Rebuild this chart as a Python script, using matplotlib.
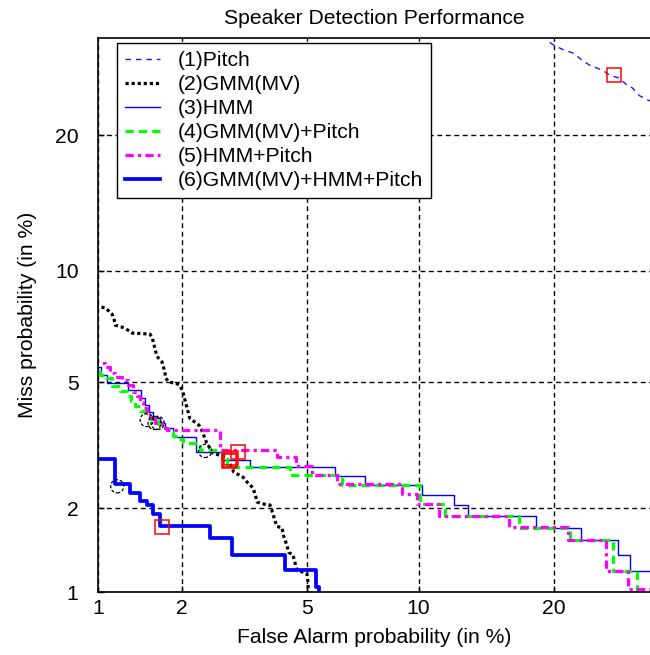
import matplotlib
matplotlib.use("Agg")
import numpy as np
import matplotlib.pyplot as plt
from matplotlib.patches import Circle
from matplotlib.transforms import ScaledTranslation
from statistics import NormalDist

# ---------------- data (percent) ----------------
tick_vals = [1, 2, 5, 10, 20]
tick_labels = ["1", "2", "5", "10", "20"]
labels = ["(1)Pitch", "(2)GMM(MV)", "(3)HMM", "(4)GMM(MV)+Pitch",
          "(5)HMM+Pitch", "(6)GMM(MV)+HMM+Pitch"]

pitch_fa = [19.2, 19.6, 20.1, 21.0, 21.8, 22.7, 23.4, 24.8, 25.5, 26.5, 27.3, 27.9, 28.7, 29.8, 31.0]
pitch_miss = [30.5, 29.5, 29.1, 28.6, 28.3, 27.5, 27.0, 26.4, 25.9, 25.6, 24.9, 24.6, 23.8, 23.3, 22.9]

gmm_fa = [0.93, 1.00, 1.07, 1.13, 1.15, 1.16, 1.23, 1.31, 1.34, 1.55, 1.58, 1.64,
          1.71, 1.75, 1.76, 1.81, 1.91, 1.97, 2.02, 2.13, 2.29, 2.34, 2.43, 2.55,
          2.81, 2.89, 2.98, 3.19, 3.28, 3.43, 3.50, 3.53, 3.65, 3.87, 3.92, 3.98,
          4.06, 4.21, 4.26, 4.35, 4.41, 4.54, 4.60, 4.66, 4.99, 5.02, 5.06]
gmm_miss = [8.22, 8.12, 8.02, 7.73, 7.46, 7.23, 7.14, 6.97, 6.88, 6.84, 6.67, 5.94,
            5.72, 5.35, 5.14, 5.01, 4.97, 4.91, 4.68, 3.91, 3.72, 3.59, 3.27, 3.04,
            2.95, 2.82, 2.64, 2.54, 2.45, 2.34, 2.18, 2.10, 2.07, 2.05, 1.97, 1.86,
            1.73, 1.71, 1.60, 1.49, 1.40, 1.37, 1.29, 1.21, 1.17, 1.11, 0.93]

hmm_fa = [0.93, 1.03, 1.08, 1.29, 1.44, 1.49, 1.54, 1.59, 1.68, 1.75, 1.87, 2.24,
          2.73, 3.35, 6.00, 7.26, 10.2, 12.2, 13.1, 18.4, 22.6, 26.4, 27.7, 31.0]
hmm_miss = [5.53, 5.25, 4.97, 4.75, 4.49, 4.28, 4.08, 3.91, 3.78, 3.64, 3.42, 3.06,
            2.89, 2.74, 2.56, 2.39, 2.22, 2.05, 1.88, 1.71, 1.55, 1.37, 1.20, 1.20]

gmmp_fa = [0.93, 1.02, 1.07, 1.13, 1.21, 1.28, 1.32, 1.37, 1.43, 1.49, 1.55, 1.65,
           1.72, 1.79, 1.87, 1.94, 2.02, 2.31, 2.73, 2.83, 4.45, 6.27, 10.1, 11.6,
           17.0, 21.5, 25.8, 28.4]
gmmp_miss = [5.53, 5.25, 5.14, 4.88, 4.71, 4.56, 4.40, 4.25, 4.11, 3.97, 3.88, 3.75,
             3.64, 3.54, 3.44, 3.37, 3.27, 3.11, 2.95, 2.75, 2.59, 2.40, 2.07, 1.88,
             1.71, 1.55, 1.20, 0.93]

hmmp_fa = [0.93, 1.06, 1.11, 1.16, 1.23, 1.29, 1.35, 1.39, 1.43, 1.46, 1.51, 1.55,
           1.61, 1.71, 1.78, 2.69, 4.06, 4.63, 5.15, 6.07, 9.07, 9.92, 11.2, 16.2,
           21.3, 25.1, 27.5, 31.0]
hmmp_miss = [5.68, 5.53, 5.32, 5.18, 5.08, 4.91, 4.68, 4.56, 4.37, 4.19, 4.05, 3.91,
             3.78, 3.64, 3.59, 3.11, 2.95, 2.76, 2.58, 2.41, 2.24, 2.07, 1.88, 1.72,
             1.55, 1.20, 1.03, 0.93]

all_fa = [0.90, 1.16, 1.31, 1.43, 1.51, 1.59, 1.68, 2.50, 2.94, 4.31, 5.31, 5.42]
all_miss = [2.91, 2.41, 2.25, 2.12, 2.05, 1.91, 1.73, 1.57, 1.37, 1.21, 1.04, 0.90]

# equal error rate points (red squares), curves 1..6
eer_fa = [25.9, 2.89, 2.92, 2.87, 3.07, 1.71]
eer_miss = [25.9, 2.89, 2.93, 2.87, 3.06, 1.72]
# minimum DCF points (black circles), curves 2..6
dcf_fa = [2.40, 1.61, 1.51, 1.65, 1.18]
dcf_miss = [3.09, 3.78, 3.86, 3.78, 2.37]

# ---------------- normal-deviate scale ----------------
_nd = NormalDist()
_inv = np.vectorize(_nd.inv_cdf, otypes=[float])
_cdf = np.vectorize(_nd.cdf, otypes=[float])

def probit(p):
    p = np.clip(np.asarray(p, dtype=float) / 100.0, 1e-9, 1 - 1e-9)
    return _inv(p)

def inv_probit(z):
    return 100.0 * _cdf(np.asarray(z, dtype=float))

plt.rcParams['font.family'] = ['Liberation Sans', 'DejaVu Sans']
FS = 15.2

fig = plt.figure(figsize=(6.5, 6.55), dpi=100)
W, H = 650, 655
ax = fig.add_axes([98 / W, (H - 592) / H, (651 - 98) / W, (592 - 37.7) / H])
ax.set_xscale('function', functions=(probit, inv_probit))
ax.set_yscale('function', functions=(probit, inv_probit))
ax.set_xlim(1, 30)
ax.set_ylim(1, 30)

for a in (ax.xaxis, ax.yaxis):
    a.set_major_locator(matplotlib.ticker.FixedLocator(tick_vals))
    a.set_major_formatter(matplotlib.ticker.FixedFormatter(tick_labels))
    a.set_minor_locator(matplotlib.ticker.NullLocator())

ax.grid(True, color='black', linestyle=(0, (3.5, 2.6)), linewidth=1.0)
ax.set_axisbelow(True)
ax.tick_params(axis='both', direction='in', length=4, width=1.0, labelsize=FS)
ax.tick_params(axis='x', pad=5.0)
ax.tick_params(axis='y', pad=14)
for s in ax.spines.values():
    s.set_linewidth(1.2)
    s.set_color('black')

ax.plot(pitch_fa, pitch_miss, color='#1a1aff', lw=1.0, linestyle=(0, (4, 3.5)), label=labels[0])
ax.plot(gmm_fa, gmm_miss, color='black', lw=2.3, linestyle=(0, (1.0, 0.9)), label=labels[1])
ax.plot(hmm_fa, hmm_miss, color='#0000ff', lw=1.0, drawstyle='steps-post', label=labels[2])
ax.plot(gmmp_fa, gmmp_miss, color='#00ff00', lw=2.3, linestyle=(0, (2.6, 1.6)),
        drawstyle='steps-post', label=labels[3])
ax.plot(hmmp_fa, hmmp_miss, color='#ff00ff', lw=2.3, linestyle=(0, (2.6, 1.3, 1.0, 1.3)),
        drawstyle='steps-post', label=labels[4])
ax.plot(all_fa, all_miss, color='#0000ff', lw=2.7, drawstyle='steps-post', label=labels[5])

ax.plot(eer_fa, eer_miss, linestyle='none', marker='s', markersize=10,
        markerfacecolor='none', markeredgecolor='#ff0000', markeredgewidth=1.1, zorder=5)
for fx_, fy_ in zip(dcf_fa, dcf_miss):
    c = Circle((0, 0), radius=0.066, fill=False, edgecolor='black', lw=0.9,
               linestyle=(0, (2.5, 1.5)),
               transform=fig.dpi_scale_trans + ScaledTranslation(fx_, fy_, ax.transData),
               zorder=6, clip_on=False)
    ax.add_artist(c)

leg = ax.legend(loc='upper left', bbox_to_anchor=((117 - 98) / 553, 1 - (43 - 37.7) / 554.3),
                borderaxespad=0, fontsize=FS, frameon=True, fancybox=False, framealpha=1,
                edgecolor='black', handlelength=1.65, handletextpad=0.86,
                labelspacing=0.24, borderpad=0.38)
leg.get_frame().set_linewidth(1.0)

ax.set_title("Speaker Detection Performance", fontsize=FS, pad=10)
ax.set_xlabel("False Alarm probability (in %)", fontsize=FS, labelpad=7)
ax.set_ylabel("Miss probability (in %)", fontsize=FS, labelpad=13)

fig.savefig("out.png", dpi=100)
